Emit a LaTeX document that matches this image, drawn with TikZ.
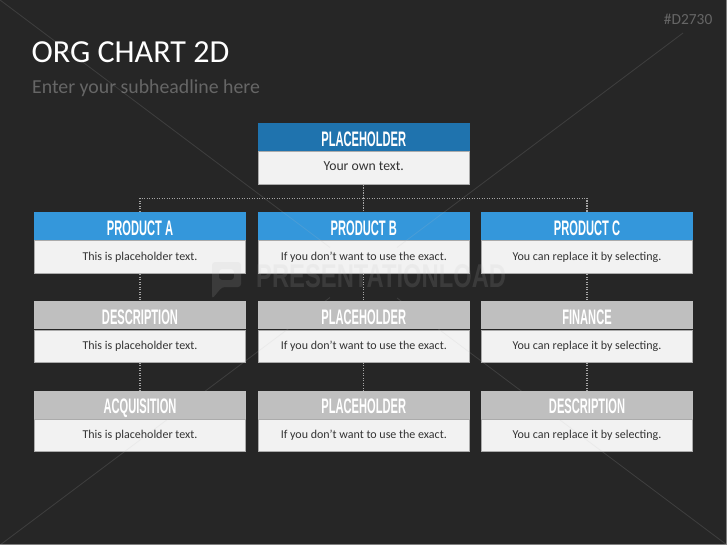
\documentclass[tikz,border=0pt]{standalone}
\usepackage{fontspec}
\setmainfont{Carlito}
\newfontfamily\headfont[FakeStretch=0.53]{Liberation Sans Bold}
\newfontfamily\markfont[FakeStretch=0.72]{Liberation Sans Bold}
\definecolor{slate}{HTML}{262626}
\definecolor{topblue}{HTML}{1F73AE}
\definecolor{prodblue}{HTML}{3497DB}
\definecolor{headgrey}{HTML}{BFBFBF}
\definecolor{bodygrey}{HTML}{F2F2F2}
\definecolor{edgegrey}{HTML}{ABABAB}
\definecolor{subgrey}{HTML}{666666}
\definecolor{faintgrey}{HTML}{C0C0C0}
\tikzset{
  headbar/.style={draw=#1,fill=#1,line width=1pt,minimum width=211.6pt,minimum height=27pt,inner sep=0pt,
    text=white,text height=18.5pt,text depth=0pt,font=\headfont\fontsize{21}{21}\selectfont},
  textbar/.style={draw=edgegrey,fill=bodygrey,line width=1pt,minimum width=211.6pt,minimum height=32pt,inner sep=0pt,
    text=black!80,text height=8.5pt,text depth=2.5pt,font=\fontsize{12}{14}\selectfont},
  link/.style={draw=black!35,line width=1.1pt,dash pattern=on 1.2pt off 1.3pt},
  cross/.style={draw=faintgrey,opacity=.16,line width=.8pt},
}
\begin{document}
\begin{tikzpicture}[x=1pt,y=-1pt]
\useasboundingbox (0,0) rectangle (727,545);
\fill[slate] (0,0) rectangle (727,545);
\draw[black!50,line width=1pt] (0,544.5) -- (726.5,544.5) -- (726.5,0);
% title
\node[anchor=base west,inner sep=0pt,text=white,font=\fontsize{32.1}{34}\selectfont] (title) at (31.5,63) {ORG CHART 2D};
\node[anchor=base west,inner sep=0pt,text=subgrey,font=\fontsize{19.8}{24}\selectfont] (subtitle) at (32,94) {Enter your subheadline here};
\node[anchor=base east,inner sep=0pt,text=subgrey,font=\fontsize{15.4}{16}\selectfont] (code) at (712.5,25) {\#D2730};
% top box
\node[headbar=topblue] (top) at (363.8,137.5) {PLACEHOLDER};
\node[textbar,minimum height=33pt] (toptext) at (363.8,168) {\fontsize{13.7}{15}\selectfont Your own text.};
% first row
\node[headbar=prodblue] (prodA) at (140,226) {PRODUCT A};
\node[textbar,minimum height=33pt] (prodAtext) at (140,257) {This is placeholder text.};
\node[headbar=prodblue] (prodB) at (363.8,226) {PRODUCT B};
\node[textbar,minimum height=33pt] (prodBtext) at (363.8,257) {If you don't want to use the exact.};
\node[headbar=prodblue] (prodC) at (587,226) {PRODUCT C};
\node[textbar,minimum height=33pt] (prodCtext) at (587,257) {You can replace it by selecting.};
% second row
\node[headbar=headgrey] (descA) at (140,315) {DESCRIPTION};
\node[textbar] (descAtext) at (140,346) {This is placeholder text.};
\node[headbar=headgrey] (holdB) at (363.8,315) {PLACEHOLDER};
\node[textbar] (holdBtext) at (363.8,346) {If you don't want to use the exact.};
\node[headbar=headgrey] (finC) at (587,315) {FINANCE};
\node[textbar] (finCtext) at (587,346) {You can replace it by selecting.};
% third row
\node[headbar=headgrey] (acqA) at (140,404.5) {ACQUISITION};
\node[textbar] (acqAtext) at (140,435.5) {This is placeholder text.};
\node[headbar=headgrey] (lastB) at (363.8,404.5) {PLACEHOLDER};
\node[textbar] (lastBtext) at (363.8,435.5) {If you don't want to use the exact.};
\node[headbar=headgrey] (lastC) at (587,404.5) {DESCRIPTION};
\node[textbar] (lastCtext) at (587,435.5) {You can replace it by selecting.};
% dotted links
\coordinate (bus) at (363.8,198.5);
\draw[link] (toptext.south) -- (prodB.north);
\draw[link] (prodA.north) |- (bus) -| (prodC.north);
\draw[link] (prodAtext.south) -- (descA.north);
\draw[link] (prodBtext.south) -- (holdB.north);
\draw[link] (prodCtext.south) -- (finC.north);
\draw[link] (descAtext.south) -- (acqA.north);
\draw[link] (holdBtext.south) -- (lastB.north);
\draw[link] (finCtext.south) -- (lastC.north);
% faint crossing lines and watermark
\draw[cross] (0,0) -- (330,247.5);
\draw[cross] (397,298) -- (727,545);
\draw[cross] (0,545) -- (330,297.5);
\draw[cross] (397,247.5) -- (683,33);
\node[anchor=base west,inner sep=0pt,text=faintgrey,opacity=.14,font=\markfont\fontsize{33}{33}\selectfont] (mark) at (256,287) {PRESENTATIONLOAD};
\fill[faintgrey,opacity=.14,even odd rule,rounded corners=3pt]
  (212,262) -- (241,262) -- (241,287) -- (222,287) -- (212,299) -- cycle
  (219,269) -- (234,269) -- (234,280) -- (219,280) -- cycle;
\end{tikzpicture}
\end{document}
